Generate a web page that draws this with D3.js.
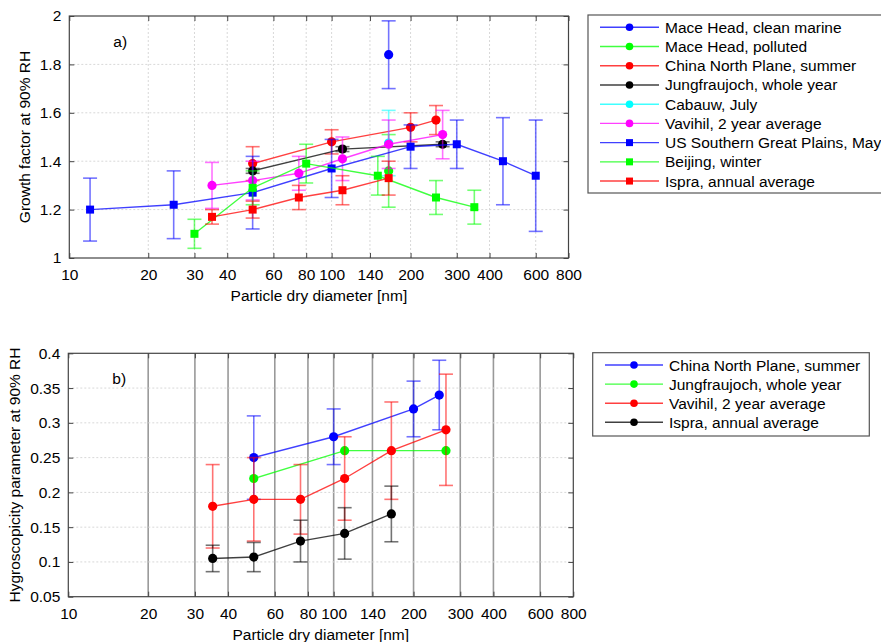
<!DOCTYPE html>
<html><head><meta charset="utf-8">
<script src="https://cdn.jsdelivr.net/npm/d3@7"></script>
<style>
body{margin:0;background:#fff;}
text{font-family:"Liberation Sans",Arial,sans-serif;fill:#000;}
</style></head>
<body>
<svg id="c" width="881" height="642"></svg>
<script>
// ---------- DATA ----------
const xTicks = [10,20,30,40,60,80,100,140,200,300,400,600,800];
const yTicksA = [1,1.2,1.4,1.6,1.8,2];
const yTickLabelsA = ["1","1.2","1.4","1.6","1.8","2"];
const yTicksB = [0.05,0.1,0.15,0.2,0.25,0.3,0.35,0.4];
const yTickLabelsB = ["0.05","0.1","0.15","0.2","0.25","0.3","0.35","0.4"];

// Panel a) growth factor at 90% RH
const namesA = ["Mace Head, clean marine","Mace Head, polluted","China North Plane, summer","Jungfraujoch, whole year","Cabauw, July","Vavihil, 2 year average","US Southern Great Plains, May","Beijing, winter","Ispra, annual average"];
const colorsA = ["#0000ff","#00ff00","#ff0000","#000000","#00ffff","#ff00ff","#0000ff","#00ff00","#ff0000"];
const symbolsA = ["circle","circle","circle","circle","circle","circle","square","square","square"];
const maceCleanX = [165], maceCleanY = [1.84], maceCleanE = [0.14];
const macePollX = [165], macePollY = [1.36], macePollE = [0.15];
const chinaX = [50,100,200,250], chinaY = [1.39,1.48,1.54,1.57], chinaE = [0.07,0.05,0.06,0.06];
const jungX = [50,110,265], jungY = [1.36,1.45,1.47], jungE = [0.01,0.01,0.01];
const cabauwX = [165], cabauwY = [1.475], cabauwE = [0.135];
const vavihilX = [35,50,75,110,165,265], vavihilY = [1.30,1.32,1.35,1.41,1.47,1.51], vavihilE = [0.095,0.08,0.07,0.09,0.10,0.10];
const sgpX = [12,25,50,100,200,300,450,600], sgpY = [1.20,1.22,1.27,1.37,1.46,1.47,1.40,1.34], sgpE = [0.13,0.14,0.15,0.12,0.09,0.10,0.18,0.23];
const beijingX = [30,50,80,150,250,350], beijingY = [1.10,1.29,1.39,1.34,1.25,1.21], beijingE = [0.06,0.07,0.08,0.08,0.07,0.07];
const ispraX = [35,50,75,110,165], ispraY = [1.17,1.20,1.25,1.28,1.33], ispraE = [0.03,0.035,0.05,0.06,0.07];

// Panel b) hygroscopicity parameter at 90% RH
const namesB = ["China North Plane, summer","Jungfraujoch, whole year","Vavihil, 2 year average","Ispra, annual average"];
const colorsB = ["#0000ff","#00ff00","#ff0000","#000000"];
const kChinaX = [50,100,200,250], kChinaY = [0.25,0.28,0.32,0.34], kChinaE = [0.06,0.04,0.04,0.05];
const kJungX = [50,110,265], kJungY = [0.22,0.26,0.26], kJungE = [0,0,0];
const kVavihilX = [35,50,75,110,165,265], kVavihilY = [0.18,0.19,0.19,0.22,0.26,0.29], kVavihilE = [0.06,0.06,0.05,0.06,0.07,0.08];
const kIspraX = [35,50,75,110,165], kIspraY = [0.105,0.107,0.13,0.141,0.169], kIspraE = [0.019,0.021,0.03,0.037,0.04];

const seriesA = [
  [maceCleanX,maceCleanY,maceCleanE],[macePollX,macePollY,macePollE],[chinaX,chinaY,chinaE],
  [jungX,jungY,jungE],[cabauwX,cabauwY,cabauwE],[vavihilX,vavihilY,vavihilE],
  [sgpX,sgpY,sgpE],[beijingX,beijingY,beijingE],[ispraX,ispraY,ispraE]
].map((s,i)=>({name:namesA[i],color:colorsA[i],sym:symbolsA[i],pts:s[0].map((x,j)=>({x,y:s[1][j],e:s[2][j]}))}));
const seriesB = [
  [kChinaX,kChinaY,kChinaE],[kJungX,kJungY,kJungE],[kVavihilX,kVavihilY,kVavihilE],[kIspraX,kIspraY,kIspraE]
].map((s,i)=>({name:namesB[i],color:colorsB[i],sym:"circle",pts:s[0].map((x,j)=>({x,y:s[1][j],e:s[2][j]}))}));

// ---------- DRAW ----------
const svg = d3.select("#c");
const FS = 15.5;

function txt(g,x,y,s,anchor,rot){
  const t = g.append("text").attr("x",0).attr("y",0)
    .attr("transform",`translate(${x},${y})`+(rot?` rotate(${rot})`:""))
    .attr("font-size",FS).attr("text-anchor",anchor||"start").text(s);
  return t;
}

function panel(opt){
  const g = svg.append("g");
  const x = d3.scaleLog().domain([10,800]).range([opt.x0,opt.x1]);
  const y = d3.scaleLinear().domain(opt.ydom).range([opt.y0,opt.y1]);
  // grid
  const vg = g.append("g");
  xTicks.slice(1,-1).forEach(t=>{
    vg.append("line").attr("x1",x(t)).attr("x2",x(t)).attr("y1",opt.y0).attr("y2",opt.y1)
      .attr("stroke",opt.vgrid.color).attr("stroke-width",opt.vgrid.w).attr("stroke-dasharray",opt.vgrid.dash||null);
  });
  opt.yticks.slice(1,-1).forEach(t=>{
    vg.append("line").attr("x1",opt.x0).attr("x2",opt.x1).attr("y1",y(t)).attr("y2",y(t))
      .attr("stroke","#d8d8d8").attr("stroke-width",1).attr("stroke-dasharray","2,2");
  });
  // axes via d3
  const xb = g.append("g").attr("transform",`translate(0,${opt.y0})`)
    .call(d3.axisBottom(x).tickValues(xTicks).tickFormat(d3.format("d")).tickSizeInner(-5).tickSizeOuter(0).tickPadding(11));
  const xt = g.append("g").attr("transform",`translate(0,${opt.y1})`)
    .call(d3.axisTop(x).tickValues(xTicks).tickFormat("").tickSizeInner(-5).tickSizeOuter(0));
  const yl = g.append("g").attr("transform",`translate(${opt.x0},0)`)
    .call(d3.axisLeft(y).tickValues(opt.yticks).tickFormat((d,i)=>opt.ylabels[i]).tickSizeInner(-5).tickSizeOuter(0).tickPadding(8));
  const yr = g.append("g").attr("transform",`translate(${opt.x1},0)`)
    .call(d3.axisRight(y).tickValues(opt.yticks).tickFormat("").tickSizeInner(-5).tickSizeOuter(0));
  [xb,xt,yl,yr].forEach(a=>{
    a.selectAll(".domain").remove();
    a.selectAll(".tick line").attr("stroke","#444");
    a.selectAll("text").attr("font-size",FS).attr("font-family","Liberation Sans, Arial, sans-serif").attr("fill","#000");
  });
  // frame
  g.append("rect").attr("x",opt.x0).attr("y",opt.y1).attr("width",opt.x1-opt.x0).attr("height",opt.y0-opt.y1)
    .attr("fill","none").attr("stroke","#444").attr("stroke-width",1.2);
  // series
  const line = d3.line().x(d=>x(d.x)).y(d=>y(d.y));
  opt.series.forEach(s=>{
    const sg = g.append("g");
    s.pts.forEach(p=>{
      if(!p.e) return;
      const eb = sg.append("g").attr("stroke",s.color).attr("stroke-opacity",0.55).attr("stroke-width",1.6);
      const xp = x(p.x);
      eb.append("line").attr("x1",xp).attr("x2",xp).attr("y1",y(p.y-p.e)).attr("y2",y(p.y+p.e));
      eb.append("line").attr("x1",xp-7).attr("x2",xp+7).attr("y1",y(p.y-p.e)).attr("y2",y(p.y-p.e));
      eb.append("line").attr("x1",xp-7).attr("x2",xp+7).attr("y1",y(p.y+p.e)).attr("y2",y(p.y+p.e));
    });
    sg.append("path").attr("d",line(s.pts)).attr("fill","none").attr("stroke",s.color)
      .attr("stroke-opacity",0.75).attr("stroke-width",1.4);
    s.pts.forEach(p=>{
      if(s.sym==="square"){
        sg.append("rect").attr("x",x(p.x)-4).attr("y",y(p.y)-4).attr("width",8).attr("height",8).attr("fill",s.color);
      } else {
        sg.append("circle").attr("cx",x(p.x)).attr("cy",y(p.y)).attr("r",4.6).attr("fill",s.color);
      }
    });
  });
  // panel label
  txt(g,opt.x0+44,opt.y1+31,opt.label,"start");
  // axis titles
  txt(g,(opt.x0+opt.x1)/2,opt.xtitleY,"Particle dry diameter [nm]","middle");
  txt(g,opt.ytitleX,(opt.y0+opt.y1)/2,opt.ytitle,"middle",-90);
  // legend
  const L = opt.legend;
  const lg = svg.append("g");
  lg.append("rect").attr("x",L.x).attr("y",L.y).attr("width",L.w).attr("height",L.h)
    .attr("fill","#fff").attr("stroke","#555").attr("stroke-width",1.2);
  opt.series.forEach((s,i)=>{
    const cy = L.row0 + i*L.step;
    lg.append("line").attr("x1",L.lx0).attr("x2",L.lx1).attr("y1",cy).attr("y2",cy)
      .attr("stroke",s.color).attr("stroke-opacity",0.75).attr("stroke-width",1.4);
    const mx=(L.lx0+L.lx1)/2;
    if(s.sym==="square") lg.append("rect").attr("x",mx-3.5).attr("y",cy-3.5).attr("width",7).attr("height",7).attr("fill",s.color);
    else lg.append("circle").attr("cx",mx).attr("cy",cy).attr("r",3.8).attr("fill",s.color);
    txt(lg,L.tx,cy+5.5,s.name,"start");
  });
}

panel({x0:69.3,x1:568.5,y0:258,y1:16,ydom:[1,2],yticks:yTicksA,ylabels:yTickLabelsA,
  vgrid:{color:"#d8d8d8",w:1,dash:"2,2"},series:seriesA,label:"a)",
  xtitleY:301,ytitleX:30,ytitle:"Growth factor at 90% RH",
  legend:{x:588,y:15,w:310,h:178,row0:27.3,step:19.22,lx0:600,lx1:659,tx:665}});

panel({x0:68.3,x1:573.3,y0:596.7,y1:353.3,ydom:[0.05,0.4],yticks:yTicksB,ylabels:yTickLabelsB,
  vgrid:{color:"#999",w:1.6,dash:null},series:seriesB,label:"b)",
  xtitleY:640,ytitleX:20,ytitle:"Hygroscopicity parameter at 90% RH",
  legend:{x:592.7,y:352.7,w:276.6,h:83.3,row0:365,step:19.1,lx0:605,lx1:663,tx:669}});
</script>
</body></html>
